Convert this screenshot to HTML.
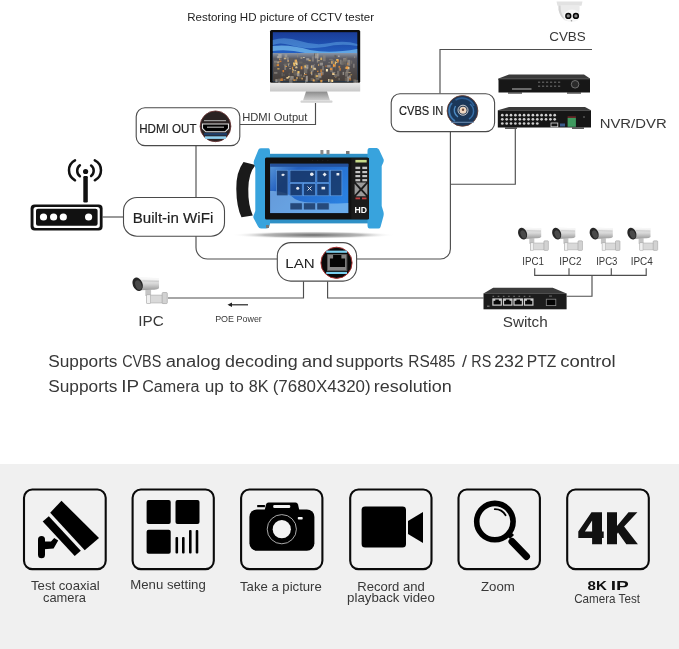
<!DOCTYPE html>
<html><head><meta charset="utf-8">
<style>
html,body{margin:0;padding:0;background:#fff;}
body{width:679px;height:649px;overflow:hidden;position:relative;font-family:"Liberation Sans",sans-serif;}
svg{position:absolute;left:0;top:0;will-change:transform;}
text{font-family:"Liberation Sans",sans-serif;}
</style></head><body>
<svg width="679" height="649" viewBox="0 0 679 649">
<defs>
  <linearGradient id="sky" x1="0" y1="0" x2="0" y2="1">
    <stop offset="0" stop-color="#1a3c98"/>
    <stop offset="0.45" stop-color="#2462c4"/>
    <stop offset="1" stop-color="#3a8ad8"/>
  </linearGradient>
  <linearGradient id="chin" x1="0" y1="0" x2="0" y2="1">
    <stop offset="0" stop-color="#e8e8e8"/>
    <stop offset="1" stop-color="#c8c8c8"/>
  </linearGradient>
  <linearGradient id="stand" x1="0" y1="0" x2="0" y2="1">
    <stop offset="0" stop-color="#8a8a8a"/>
    <stop offset="1" stop-color="#d0d0d0"/>
  </linearGradient>
  <radialGradient id="shadow" cx="0.5" cy="0.5" r="0.5">
    <stop offset="0" stop-color="#6a6a6a"/>
    <stop offset="0.6" stop-color="#9a9a9a" stop-opacity="0.7"/>
    <stop offset="1" stop-color="#fff" stop-opacity="0"/>
  </radialGradient>
  <linearGradient id="scr" x1="0" y1="0" x2="1" y2="0.6">
    <stop offset="0" stop-color="#5a98d8"/>
    <stop offset="0.3" stop-color="#2460c0"/>
    <stop offset="1" stop-color="#2a80e0"/>
  </linearGradient>
  <linearGradient id="cam" x1="0" y1="0" x2="0" y2="1">
    <stop offset="0" stop-color="#f4f4f4"/>
    <stop offset="0.5" stop-color="#d6d6d6"/>
    <stop offset="1" stop-color="#9a9a9a"/>
  </linearGradient>
  <linearGradient id="city" x1="0" y1="0" x2="0" y2="1">
    <stop offset="0" stop-color="#8a96a8"/>
    <stop offset="0.2" stop-color="#5a5a62"/>
    <stop offset="1" stop-color="#463e38"/>
  </linearGradient>
</defs>

<!-- backgrounds -->
<rect x="0" y="0" width="679" height="464" fill="#ffffff"/>
<rect x="0" y="464" width="679" height="185" fill="#f0f0f0"/>

<!-- connecting lines -->
<g stroke="#4e4e4e" stroke-width="1.15" fill="none">
  <polyline points="240,124.5 315.5,124.5 315.5,103"/>
  <line x1="196" y1="146" x2="196" y2="197.5"/>
  <path d="M196,236 V247.5 A11.5,11.5 0 0 0 207.5,259 H277.5"/>
  <polyline points="440,93.5 440,49.5 592,49.5"/>
  <path d="M450.4,131.5 V249 A10,10 0 0 1 440.4,259 H356.5"/>
  <polyline points="515.3,129 515.3,184.2 450.5,184.2"/>
  <line x1="102.7" y1="217" x2="123" y2="217"/>
  <polyline points="168,298 303.5,298 303.5,281.4"/>
  <polyline points="327.6,281.4 327.6,298 483.5,298"/>
  <polyline points="566.7,296.2 592,296.2 592,275.4"/>
  <polyline points="534.7,268.3 534.7,275.4 646.2,275.4 646.2,268.3"/>
  <line x1="569" y1="268.3" x2="569" y2="275.4"/>
  <line x1="611.3" y1="268.3" x2="611.3" y2="275.4"/>
</g>

<!-- label boxes -->
<g stroke="#4a4a4a" stroke-width="1.1" fill="#fff">
  <rect x="136.2" y="107.8" width="103.6" height="37.8" rx="8.8"/>
  <rect x="391.2" y="93.8" width="103.4" height="37.8" rx="8.8"/>
  <rect x="123.5" y="197.5" width="101" height="38.7" rx="13.5"/>
  <rect x="277.3" y="242.6" width="79.3" height="38.5" rx="13.5"/>
</g>

<!-- texts -->
<g id="texts">
  <text x="187.20" y="21.4" font-size="11.6" textLength="186.80" lengthAdjust="spacingAndGlyphs" fill="#222">Restoring HD picture of CCTV tester</text>
  <text x="242.20" y="121.2" font-size="10.5" textLength="65.26" lengthAdjust="spacingAndGlyphs" fill="#383838">HDMI Output</text>
  <text x="139.20" y="132.6" font-size="12.5" textLength="57.30" lengthAdjust="spacingAndGlyphs" fill="#222" stroke="#222" stroke-width="0.18">HDMI OUT</text>
  <text x="549.20" y="40.5" font-size="12.4" textLength="36.60" lengthAdjust="spacingAndGlyphs" fill="#383838">CVBS</text>
  <text x="399.00" y="114.6" font-size="12" textLength="44.34" lengthAdjust="spacingAndGlyphs" fill="#222" stroke="#222" stroke-width="0.18">CVBS IN</text>
  <text x="599.70" y="128.2" font-size="13.4" textLength="66.98" lengthAdjust="spacingAndGlyphs" fill="#383838">NVR/DVR</text>
  <text x="132.70" y="222.8" font-size="14.7" textLength="80.60" lengthAdjust="spacingAndGlyphs" fill="#222" stroke="#222" stroke-width="0.18">Built-in WiFi</text>
  <text x="285.28" y="268" font-size="13.7" textLength="29.44" lengthAdjust="spacingAndGlyphs" fill="#222">LAN</text>
  <text x="138.36" y="326" font-size="13.8" textLength="25.44" lengthAdjust="spacingAndGlyphs" fill="#383838">IPC</text>
  <text x="215.16" y="322.2" font-size="9.7" textLength="46.68" lengthAdjust="spacingAndGlyphs" fill="#383838">POE Power</text>
  <text x="502.70" y="327" font-size="14.5" textLength="45.02" lengthAdjust="spacingAndGlyphs" fill="#383838">Switch</text>
  <text x="522.20" y="265.2" font-size="10.9" textLength="21.72" lengthAdjust="spacingAndGlyphs" fill="#383838">IPC1</text>
  <text x="559.32" y="265.2" font-size="10.9" textLength="22.14" lengthAdjust="spacingAndGlyphs" fill="#383838">IPC2</text>
  <text x="596.20" y="265.2" font-size="10.9" textLength="21.22" lengthAdjust="spacingAndGlyphs" fill="#383838">IPC3</text>
  <text x="630.74" y="265.2" font-size="10.9" textLength="22.10" lengthAdjust="spacingAndGlyphs" fill="#383838">IPC4</text>
  <text x="48.24" y="366.6" font-size="16" textLength="69.14" lengthAdjust="spacingAndGlyphs" fill="#383838">Supports</text>
  <text x="122.16" y="366.6" font-size="16" textLength="39.14" lengthAdjust="spacingAndGlyphs" fill="#383838">CVBS</text>
  <text x="165.66" y="366.6" font-size="16" textLength="55.14" lengthAdjust="spacingAndGlyphs" fill="#383838">analog</text>
  <text x="225.08" y="366.6" font-size="16" textLength="72.64" lengthAdjust="spacingAndGlyphs" fill="#383838">decoding</text>
  <text x="301.70" y="366.6" font-size="16" textLength="31.10" lengthAdjust="spacingAndGlyphs" fill="#383838">and</text>
  <text x="335.74" y="366.6" font-size="16" textLength="67.72" lengthAdjust="spacingAndGlyphs" fill="#383838">supports</text>
  <text x="408.24" y="366.6" font-size="16" textLength="47.18" lengthAdjust="spacingAndGlyphs" fill="#383838">RS485</text>
  <text x="462.04" y="366.6" font-size="16" textLength="4.96" lengthAdjust="spacingAndGlyphs" fill="#383838">/</text>
  <text x="471.36" y="366.6" font-size="16" textLength="19.94" lengthAdjust="spacingAndGlyphs" fill="#383838">RS</text>
  <text x="494.24" y="366.6" font-size="16" textLength="29.56" lengthAdjust="spacingAndGlyphs" fill="#383838">232</text>
  <text x="526.86" y="366.6" font-size="16" textLength="29.48" lengthAdjust="spacingAndGlyphs" fill="#383838">PTZ</text>
  <text x="560.20" y="366.6" font-size="16" textLength="55.56" lengthAdjust="spacingAndGlyphs" fill="#383838">control</text>
  <text x="48.24" y="392.3" font-size="16" textLength="69.14" lengthAdjust="spacingAndGlyphs" fill="#383838">Supports</text>
  <text x="121.36" y="392.3" font-size="16" textLength="17.86" lengthAdjust="spacingAndGlyphs" fill="#383838">IP</text>
  <text x="142.16" y="392.3" font-size="16" textLength="57.30" lengthAdjust="spacingAndGlyphs" fill="#383838">Camera</text>
  <text x="204.78" y="392.3" font-size="16" textLength="19.14" lengthAdjust="spacingAndGlyphs" fill="#383838">up</text>
  <text x="229.50" y="392.3" font-size="16" textLength="14.42" lengthAdjust="spacingAndGlyphs" fill="#383838">to</text>
  <text x="248.70" y="392.3" font-size="16" textLength="19.76" lengthAdjust="spacingAndGlyphs" fill="#383838">8K</text>
  <text x="272.70" y="392.3" font-size="16" textLength="97.94" lengthAdjust="spacingAndGlyphs" fill="#383838">(7680X4320)</text>
  <text x="373.70" y="392.3" font-size="16" textLength="77.98" lengthAdjust="spacingAndGlyphs" fill="#383838">resolution</text>
  <text x="31.00" y="589.8" font-size="13" textLength="68.76" lengthAdjust="spacingAndGlyphs" fill="#383838">Test coaxial</text>
  <text x="43.00" y="601.8" font-size="13" textLength="43.00" lengthAdjust="spacingAndGlyphs" fill="#383838">camera</text>
  <text x="130.28" y="589.2" font-size="13" textLength="75.52" lengthAdjust="spacingAndGlyphs" fill="#383838">Menu setting</text>
  <text x="240.00" y="590.8" font-size="13" textLength="81.80" lengthAdjust="spacingAndGlyphs" fill="#383838">Take a picture</text>
  <text x="357.28" y="591" font-size="13" textLength="67.56" lengthAdjust="spacingAndGlyphs" fill="#383838">Record and</text>
  <text x="347.12" y="602" font-size="13" textLength="87.72" lengthAdjust="spacingAndGlyphs" fill="#383838">playback video</text>
  <text x="481.00" y="591.2" font-size="13" textLength="33.80" lengthAdjust="spacingAndGlyphs" fill="#383838">Zoom</text>
  <text x="587.54" y="590.2" font-size="13.7" textLength="19.26" lengthAdjust="spacingAndGlyphs" fill="#111" font-weight="bold">8K</text>
  <text x="610.74" y="590.2" font-size="13.7" textLength="18.06" lengthAdjust="spacingAndGlyphs" fill="#111" font-weight="bold">IP</text>
  <text x="574.20" y="602.6" font-size="12.2" textLength="65.80" lengthAdjust="spacingAndGlyphs" fill="#383838">Camera Test</text>
</g>

<!-- arrow -->
<g stroke="#222" stroke-width="1.2" fill="none"><line x1="229" y1="304.8" x2="248" y2="304.8"/></g>
<path d="M227.5,304.8 L232,302.6 L232,307 Z" fill="#222"/>

<!-- circle icons -->
<g id="hdmi-icon">
  <circle cx="215.5" cy="126.3" r="15.4" fill="#2a2222" stroke="#6a3030" stroke-width="0.8"/>
  <rect x="204" y="120" width="22" height="1.2" fill="#9a9a9a"/>
  <path d="M202.5,124 L228.5,124 L228.5,128.5 L225,131.8 L206,131.8 L202.5,128.5 Z" fill="#000" stroke="#e0e0e0" stroke-width="1.1"/>
  <rect x="207" y="126.5" width="17" height="1.5" fill="#888"/>
  <rect x="204" y="132.8" width="23" height="2.6" fill="#1f3d66"/>
  <rect x="205" y="136.3" width="21" height="2.6" fill="#8fd0f0"/>
</g>
<g id="bnc-icon">
  <circle cx="462.5" cy="110.9" r="15.4" fill="#1b3759" stroke="#6a3a2a" stroke-width="0.8"/>
  <path d="M452,103 A12,12 0 0 0 455,121" fill="none" stroke="#3f78b0" stroke-width="1.8"/>
  <path d="M455.5,100 A13,13 0 0 1 474,106" fill="none" stroke="#2d5e94" stroke-width="1.6"/>
  <path d="M455.5,106 A8,8 0 0 0 458,117" fill="none" stroke="#4f8cc4" stroke-width="1.4"/>
  <path d="M470,104 A9,9 0 0 1 469,119" fill="none" stroke="#3a70a8" stroke-width="1.5"/>
  <circle cx="463" cy="110.2" r="6" fill="#2a3d55"/>
  <circle cx="463" cy="110.2" r="5" fill="none" stroke="#c4c8d0" stroke-width="1"/>
  <circle cx="463" cy="110.2" r="3.5" fill="#eed6c0"/>
  <circle cx="463" cy="109.8" r="1.2" fill="#6b4a3a"/>
  <rect x="451" y="121.8" width="23" height="0.9" fill="#7a9ac0"/>
</g>
<g id="rj45-icon">
  <circle cx="336.5" cy="262.8" r="15.6" fill="#0a0a0a" stroke="#a83030" stroke-width="1"/>
  <rect x="326.2" y="250.6" width="20.8" height="2.2" fill="#7ad0f0"/>
  <rect x="326.2" y="271.9" width="20.8" height="2.1" fill="#7ad0f0"/>
  <rect x="327.1" y="254" width="20.1" height="17.1" fill="#858585"/>
  <rect x="327.6" y="254.5" width="19.1" height="16.1" fill="none" stroke="#444" stroke-width="0.6"/>
  <path d="M329.9,267 L329.9,258.6 L333.1,258.6 L333.1,255 L341.4,255 L341.4,258.6 L345.1,258.6 L345.1,267 Z" fill="#050505"/>
</g>

<!-- MONITOR -->
<g id="monitor">
  <rect x="270" y="30" width="90.2" height="53" rx="1.5" fill="#0d0d0d"/>
  <rect x="272.8" y="32.2" width="84.5" height="49.1" fill="url(#sky)"/>
  <path d="M272.8,40 Q285,36 300,41 Q315,46 330,43 Q345,40 357.3,44 L357.3,46 Q340,43 325,47 Q305,50 290,45 Q280,42 272.8,45 Z" fill="#6ab4ee" opacity="0.45"/>
  <path d="M272.8,46 Q290,44 310,50 Q330,54 357.3,49 L357.3,53 Q330,57 305,53 Q288,49 272.8,51 Z" fill="#7cc4f2" opacity="0.7"/>
  <rect x="272.8" y="53" width="84.5" height="28.3" fill="url(#city)"/>
  <rect x="310.1" y="68.1" width="3.6" height="3.3" fill="rgb(155,149,141)" opacity="0.65"/>
  <rect x="343.1" y="58.1" width="3.2" height="3.4" fill="rgb(168,162,154)" opacity="0.65"/>
  <rect x="338.0" y="55.5" width="1.7" height="1.5" fill="rgb(193,187,179)" opacity="0.65"/>
  <rect x="346.0" y="70.1" width="2.6" height="3.0" fill="rgb(147,141,133)" opacity="0.65"/>
  <rect x="326.6" y="69.6" width="1.3" height="1.1" fill="rgb(157,151,143)" opacity="0.65"/>
  <rect x="278.2" y="54.0" width="3.4" height="4.0" fill="rgb(189,183,175)" opacity="0.65"/>
  <rect x="311.0" y="64.9" width="3.3" height="3.6" fill="rgb(171,165,157)" opacity="0.65"/>
  <rect x="297.1" y="53.1" width="1.1" height="4.3" fill="rgb(142,136,128)" opacity="0.65"/>
  <rect x="354.8" y="79.9" width="3.3" height="4.5" fill="rgb(130,124,116)" opacity="0.65"/>
  <rect x="335.2" y="66.8" width="0.9" height="3.8" fill="rgb(103,97,89)" opacity="0.65"/>
  <rect x="305.8" y="75.9" width="2.0" height="5.8" fill="rgb(198,192,184)" opacity="0.65"/>
  <rect x="329.2" y="58.8" width="3.6" height="1.3" fill="rgb(138,132,124)" opacity="0.65"/>
  <rect x="353.4" y="63.7" width="1.0" height="4.1" fill="rgb(189,183,175)" opacity="0.65"/>
  <rect x="328.3" y="62.1" width="1.7" height="1.1" fill="rgb(142,136,128)" opacity="0.65"/>
  <rect x="335.2" y="56.2" width="1.5" height="1.5" fill="rgb(97,91,83)" opacity="0.65"/>
  <rect x="311.1" y="66.1" width="2.8" height="1.9" fill="rgb(155,149,141)" opacity="0.65"/>
  <rect x="288.6" y="72.8" width="1.2" height="4.2" fill="rgb(104,98,90)" opacity="0.65"/>
  <rect x="305.4" y="79.7" width="0.8" height="5.3" fill="rgb(192,186,178)" opacity="0.65"/>
  <rect x="321.6" y="79.9" width="0.9" height="1.9" fill="rgb(199,193,185)" opacity="0.65"/>
  <rect x="322.4" y="68.6" width="0.9" height="1.7" fill="rgb(146,140,132)" opacity="0.65"/>
  <rect x="294.2" y="73.9" width="1.8" height="2.5" fill="rgb(99,93,85)" opacity="0.65"/>
  <rect x="279.1" y="58.6" width="2.7" height="1.1" fill="rgb(137,131,123)" opacity="0.65"/>
  <rect x="303.5" y="65.2" width="3.7" height="3.4" fill="rgb(163,157,149)" opacity="0.65"/>
  <rect x="284.1" y="63.4" width="2.7" height="2.6" fill="rgb(119,113,105)" opacity="0.65"/>
  <rect x="340.1" y="59.7" width="1.4" height="4.7" fill="rgb(160,154,146)" opacity="0.65"/>
  <rect x="289.1" y="78.7" width="3.4" height="4.0" fill="rgb(143,137,129)" opacity="0.65"/>
  <rect x="276.9" y="55.9" width="2.3" height="2.3" fill="rgb(184,178,170)" opacity="0.65"/>
  <rect x="330.8" y="59.9" width="3.3" height="4.0" fill="rgb(127,121,113)" opacity="0.65"/>
  <rect x="315.6" y="78.1" width="3.7" height="1.6" fill="rgb(151,145,137)" opacity="0.65"/>
  <rect x="318.9" y="76.0" width="2.6" height="2.4" fill="rgb(116,110,102)" opacity="0.65"/>
  <rect x="334.4" y="54.9" width="2.0" height="2.2" fill="rgb(95,89,81)" opacity="0.65"/>
  <rect x="287.5" y="63.0" width="2.5" height="1.7" fill="rgb(136,130,122)" opacity="0.65"/>
  <rect x="284.3" y="65.2" width="1.8" height="4.7" fill="rgb(156,150,142)" opacity="0.65"/>
  <rect x="320.9" y="56.8" width="0.9" height="1.1" fill="rgb(135,129,121)" opacity="0.65"/>
  <rect x="330.5" y="79.0" width="0.9" height="4.2" fill="rgb(151,145,137)" opacity="0.65"/>
  <rect x="278.5" y="61.4" width="1.2" height="1.4" fill="rgb(147,141,133)" opacity="0.65"/>
  <rect x="317.8" y="72.9" width="3.5" height="4.7" fill="rgb(180,174,166)" opacity="0.65"/>
  <rect x="283.6" y="79.0" width="1.8" height="1.4" fill="rgb(150,144,136)" opacity="0.65"/>
  <rect x="346.9" y="76.5" width="2.1" height="5.0" fill="rgb(200,194,186)" opacity="0.65"/>
  <rect x="314.0" y="53.4" width="2.8" height="2.9" fill="rgb(91,85,77)" opacity="0.65"/>
  <rect x="322.9" y="55.2" width="2.7" height="6.0" fill="rgb(143,137,129)" opacity="0.65"/>
  <rect x="332.7" y="63.5" width="3.0" height="3.9" fill="rgb(146,140,132)" opacity="0.65"/>
  <rect x="310.9" y="67.6" width="2.4" height="3.6" fill="rgb(129,123,115)" opacity="0.65"/>
  <rect x="322.3" y="66.0" width="1.5" height="4.5" fill="rgb(153,147,139)" opacity="0.65"/>
  <rect x="337.0" y="70.8" width="2.3" height="5.5" fill="rgb(137,131,123)" opacity="0.65"/>
  <rect x="297.7" y="71.3" width="1.4" height="1.8" fill="rgb(133,127,119)" opacity="0.65"/>
  <rect x="327.1" y="64.9" width="3.5" height="2.6" fill="rgb(175,169,161)" opacity="0.65"/>
  <rect x="293.5" y="70.1" width="3.2" height="4.8" fill="rgb(115,109,101)" opacity="0.65"/>
  <rect x="345.2" y="63.4" width="2.5" height="2.6" fill="rgb(107,101,93)" opacity="0.65"/>
  <rect x="284.0" y="62.5" width="3.5" height="1.2" fill="rgb(98,92,84)" opacity="0.65"/>
  <rect x="350.9" y="60.5" width="1.3" height="3.3" fill="rgb(125,119,111)" opacity="0.65"/>
  <rect x="348.9" y="75.4" width="1.9" height="3.6" fill="rgb(176,170,162)" opacity="0.65"/>
  <rect x="298.9" y="75.7" width="3.7" height="3.3" fill="rgb(99,93,85)" opacity="0.65"/>
  <rect x="341.0" y="60.5" width="2.6" height="4.4" fill="rgb(125,119,111)" opacity="0.65"/>
  <rect x="319.8" y="61.3" width="3.2" height="1.1" fill="rgb(107,101,93)" opacity="0.65"/>
  <rect x="306.2" y="58.1" width="3.1" height="2.3" fill="rgb(189,183,175)" opacity="0.65"/>
  <rect x="284.6" y="54.3" width="2.7" height="3.2" fill="rgb(170,164,156)" opacity="0.65"/>
  <rect x="316.9" y="70.3" width="1.9" height="1.4" fill="rgb(115,109,101)" opacity="0.65"/>
  <rect x="289.3" y="65.8" width="1.3" height="1.1" fill="rgb(150,144,136)" opacity="0.65"/>
  <rect x="316.9" y="54.0" width="1.5" height="4.9" fill="rgb(159,153,145)" opacity="0.65"/>
  <rect x="330.2" y="67.1" width="2.6" height="4.8" fill="rgb(140,134,126)" opacity="0.65"/>
  <rect x="342.6" y="71.9" width="1.5" height="3.1" fill="rgb(182,176,168)" opacity="0.65"/>
  <rect x="304.8" y="65.2" width="1.4" height="5.4" fill="rgb(90,84,76)" opacity="0.65"/>
  <rect x="303.9" y="68.4" width="3.4" height="5.0" fill="rgb(133,127,119)" opacity="0.65"/>
  <rect x="311.0" y="70.6" width="1.4" height="4.6" fill="rgb(194,188,180)" opacity="0.65"/>
  <rect x="338.5" y="78.0" width="1.2" height="2.2" fill="rgb(139,133,125)" opacity="0.65"/>
  <rect x="353.4" y="79.4" width="2.4" height="5.0" fill="rgb(131,125,117)" opacity="0.65"/>
  <rect x="294.5" y="72.4" width="0.8" height="3.5" fill="rgb(94,88,80)" opacity="0.65"/>
  <rect x="309.2" y="67.9" width="3.1" height="3.4" fill="rgb(93,87,79)" opacity="0.65"/>
  <rect x="290.9" y="76.4" width="2.1" height="1.2" fill="rgb(158,152,144)" opacity="0.65"/>
  <rect x="300.5" y="74.3" width="1.2" height="1.7" fill="rgb(156,150,142)" opacity="0.65"/>
  <rect x="346.8" y="67.0" width="2.8" height="3.2" fill="rgb(153,147,139)" opacity="0.65"/>
  <rect x="320.5" y="71.6" width="3.1" height="3.2" fill="rgb(161,155,147)" opacity="0.65"/>
  <rect x="296.8" y="72.7" width="2.7" height="3.6" fill="rgb(197,191,183)" opacity="0.65"/>
  <rect x="347.4" y="59.9" width="2.8" height="5.8" fill="rgb(168,162,154)" opacity="0.65"/>
  <rect x="290.1" y="76.0" width="3.7" height="3.6" fill="rgb(163,157,149)" opacity="0.65"/>
  <rect x="313.8" y="64.1" width="1.1" height="1.0" fill="rgb(138,132,124)" opacity="0.65"/>
  <rect x="275.3" y="79.2" width="2.3" height="3.0" fill="rgb(192,186,178)" opacity="0.65"/>
  <rect x="354.1" y="56.3" width="1.1" height="1.8" fill="rgb(158,152,144)" opacity="0.65"/>
  <rect x="310.6" y="77.9" width="3.2" height="3.0" fill="rgb(121,115,107)" opacity="0.65"/>
  <rect x="311.8" y="56.4" width="2.1" height="5.1" fill="rgb(150,144,136)" opacity="0.65"/>
  <rect x="316.0" y="55.9" width="2.1" height="1.1" fill="rgb(123,117,109)" opacity="0.65"/>
  <rect x="283.6" y="74.0" width="0.9" height="2.0" fill="rgb(119,113,105)" opacity="0.65"/>
  <rect x="274.0" y="60.7" width="3.0" height="2.2" fill="rgb(153,147,139)" opacity="0.65"/>
  <rect x="281.6" y="72.7" width="1.2" height="3.6" fill="rgb(122,116,108)" opacity="0.65"/>
  <rect x="331.9" y="71.9" width="3.4" height="1.1" fill="rgb(171,165,157)" opacity="0.65"/>
  <rect x="306.9" y="67.3" width="1.3" height="2.0" fill="rgb(170,164,156)" opacity="0.65"/>
  <rect x="316.8" y="58.9" width="1.4" height="3.7" fill="rgb(165,159,151)" opacity="0.65"/>
  <rect x="343.3" y="59.3" width="3.0" height="5.1" fill="rgb(113,107,99)" opacity="0.65"/>
  <rect x="298.9" y="61.5" width="3.6" height="2.1" fill="rgb(114,108,100)" opacity="0.65"/>
  <rect x="345.8" y="56.6" width="1.5" height="4.6" fill="rgb(123,117,109)" opacity="0.65"/>
  <rect x="304.8" y="64.7" width="3.6" height="3.7" fill="rgb(180,174,166)" opacity="0.65"/>
  <rect x="283.3" y="63.9" width="2.9" height="1.1" fill="rgb(115,109,101)" opacity="0.65"/>
  <rect x="319.7" y="62.7" width="3.3" height="2.8" fill="rgb(180,174,166)" opacity="0.65"/>
  <rect x="314.5" y="73.5" width="2.3" height="4.4" fill="rgb(114,108,100)" opacity="0.65"/>
  <rect x="338.8" y="66.0" width="0.9" height="4.8" fill="rgb(168,162,154)" opacity="0.65"/>
  <rect x="315.2" y="68.4" width="1.2" height="1.9" fill="rgb(116,110,102)" opacity="0.65"/>
  <rect x="287.1" y="57.3" width="1.6" height="4.4" fill="rgb(164,158,150)" opacity="0.65"/>
  <rect x="278.1" y="78.7" width="2.2" height="4.8" fill="rgb(131,125,117)" opacity="0.65"/>
  <rect x="305.1" y="64.5" width="1.9" height="2.1" fill="rgb(137,131,123)" opacity="0.65"/>
  <rect x="274.1" y="71.9" width="3.3" height="1.9" fill="rgb(148,142,134)" opacity="0.65"/>
  <rect x="302.5" y="63.0" width="3.6" height="4.0" fill="rgb(102,96,88)" opacity="0.65"/>
  <rect x="315.0" y="53.4" width="3.5" height="5.0" fill="rgb(180,174,166)" opacity="0.65"/>
  <rect x="344.8" y="77.5" width="3.6" height="3.8" fill="rgb(114,108,100)" opacity="0.65"/>
  <rect x="314.4" y="79.5" width="3.2" height="2.3" fill="rgb(104,98,90)" opacity="0.65"/>
  <rect x="334.0" y="74.0" width="3.2" height="3.0" fill="rgb(132,126,118)" opacity="0.65"/>
  <rect x="345.1" y="71.8" width="3.1" height="4.8" fill="rgb(141,135,127)" opacity="0.65"/>
  <rect x="290.0" y="58.0" width="3.2" height="2.5" fill="rgb(102,96,88)" opacity="0.65"/>
  <rect x="273.9" y="62.6" width="2.7" height="4.1" fill="rgb(119,113,105)" opacity="0.65"/>
  <rect x="295.4" y="79.0" width="1.7" height="2.1" fill="rgb(141,135,127)" opacity="0.65"/>
  <rect x="320.4" y="69.3" width="1.4" height="3.0" fill="#ff9a30" opacity="0.69"/>
  <rect x="285.3" y="66.1" width="1.7" height="0.9" fill="#f0a040" opacity="0.90"/>
  <rect x="296.0" y="66.2" width="0.7" height="1.1" fill="#fff0c0" opacity="0.60"/>
  <rect x="296.2" y="63.3" width="1.3" height="1.9" fill="#fff0c0" opacity="0.99"/>
  <rect x="320.3" y="79.9" width="1.9" height="2.5" fill="#f0a040" opacity="0.82"/>
  <rect x="328.1" y="79.0" width="1.4" height="2.9" fill="#fff0c0" opacity="0.79"/>
  <rect x="289.2" y="68.4" width="1.8" height="0.7" fill="#fff0c0" opacity="0.77"/>
  <rect x="317.1" y="70.8" width="1.3" height="1.3" fill="#ff9a30" opacity="0.71"/>
  <rect x="348.5" y="72.3" width="2.1" height="0.7" fill="#ffe0a0" opacity="0.70"/>
  <rect x="279.3" y="60.6" width="2.1" height="1.5" fill="#d88030" opacity="0.90"/>
  <rect x="279.9" y="79.7" width="2.5" height="0.8" fill="#ffcc66" opacity="0.77"/>
  <rect x="313.3" y="79.4" width="1.1" height="1.9" fill="#ffe0a0" opacity="0.89"/>
  <rect x="312.5" y="79.5" width="2.2" height="2.0" fill="#f0a040" opacity="0.62"/>
  <rect x="308.5" y="59.7" width="2.3" height="1.5" fill="#ffcc66" opacity="0.65"/>
  <rect x="310.5" y="72.4" width="1.5" height="1.2" fill="#e8b060" opacity="0.87"/>
  <rect x="304.4" y="74.1" width="2.2" height="0.9" fill="#d88030" opacity="0.89"/>
  <rect x="294.6" y="59.6" width="2.4" height="2.5" fill="#e8b060" opacity="0.94"/>
  <rect x="297.4" y="71.0" width="2.1" height="2.3" fill="#ffcc66" opacity="0.85"/>
  <rect x="334.8" y="61.4" width="1.1" height="3.0" fill="#ffcc66" opacity="0.95"/>
  <rect x="279.1" y="58.4" width="1.1" height="1.6" fill="#e8b060" opacity="0.62"/>
  <rect x="293.4" y="63.4" width="2.1" height="2.8" fill="#ffcc66" opacity="0.82"/>
  <rect x="325.2" y="65.6" width="1.6" height="1.1" fill="#d88030" opacity="0.80"/>
  <rect x="286.4" y="77.0" width="2.2" height="1.7" fill="#ffe0a0" opacity="0.85"/>
  <rect x="336.0" y="61.9" width="1.4" height="1.2" fill="#ffe0a0" opacity="0.66"/>
  <rect x="288.0" y="76.2" width="1.8" height="1.3" fill="#ffe0a0" opacity="0.90"/>
  <rect x="347.8" y="66.8" width="1.3" height="0.8" fill="#d88030" opacity="0.63"/>
  <rect x="282.5" y="70.0" width="1.6" height="2.2" fill="#d88030" opacity="0.93"/>
  <rect x="276.7" y="64.1" width="2.4" height="2.0" fill="#ff9a30" opacity="0.72"/>
  <rect x="332.5" y="73.0" width="1.2" height="0.9" fill="#d88030" opacity="0.86"/>
  <rect x="301.5" y="77.8" width="1.2" height="1.7" fill="#e8b060" opacity="0.97"/>
  <rect x="349.3" y="78.0" width="1.5" height="2.5" fill="#d88030" opacity="0.78"/>
  <rect x="293.3" y="79.3" width="2.1" height="1.8" fill="#f0a040" opacity="0.74"/>
  <rect x="304.5" y="65.4" width="1.4" height="1.5" fill="#ffcc66" opacity="0.90"/>
  <rect x="304.7" y="66.0" width="0.9" height="2.0" fill="#ffcc66" opacity="0.67"/>
  <rect x="335.2" y="77.3" width="1.2" height="0.7" fill="#e8b060" opacity="0.62"/>
  <rect x="288.4" y="63.8" width="0.6" height="2.6" fill="#fff0c0" opacity="0.63"/>
  <rect x="318.7" y="75.1" width="0.8" height="0.8" fill="#ff9a30" opacity="0.64"/>
  <rect x="300.5" y="57.6" width="1.9" height="0.8" fill="#ffe0a0" opacity="0.86"/>
  <rect x="295.1" y="62.1" width="2.1" height="1.9" fill="#ffe0a0" opacity="0.78"/>
  <rect x="303.3" y="75.6" width="1.3" height="0.9" fill="#fff0c0" opacity="0.81"/>
  <rect x="332.2" y="73.3" width="2.4" height="1.6" fill="#ffe0a0" opacity="0.99"/>
  <rect x="303.2" y="57.1" width="1.4" height="0.8" fill="#fff0c0" opacity="0.98"/>
  <rect x="325.9" y="69.0" width="2.0" height="2.5" fill="#fff0c0" opacity="0.97"/>
  <rect x="347.4" y="62.7" width="0.9" height="2.1" fill="#ff9a30" opacity="0.67"/>
  <rect x="291.9" y="66.8" width="1.2" height="2.9" fill="#f0a040" opacity="0.79"/>
  <rect x="333.0" y="64.0" width="0.9" height="2.8" fill="#f0a040" opacity="0.90"/>
  <rect x="277.3" y="68.1" width="2.2" height="1.4" fill="#ffcc66" opacity="0.67"/>
  <rect x="293.0" y="62.4" width="2.0" height="2.0" fill="#ffcc66" opacity="0.78"/>
  <rect x="345.8" y="66.3" width="2.4" height="2.8" fill="#ff9a30" opacity="0.82"/>
  <rect x="339.7" y="68.0" width="1.1" height="2.7" fill="#d88030" opacity="0.86"/>
  <rect x="336.2" y="59.1" width="2.3" height="1.6" fill="#ffcc66" opacity="0.98"/>
  <rect x="338.5" y="65.9" width="1.7" height="1.8" fill="#d88030" opacity="0.92"/>
  <rect x="280.5" y="78.3" width="2.4" height="2.7" fill="#d88030" opacity="0.78"/>
  <rect x="295.2" y="66.7" width="2.3" height="1.6" fill="#ffe0a0" opacity="0.73"/>
  <rect x="296.2" y="77.0" width="1.6" height="2.1" fill="#e8b060" opacity="0.71"/>
  <rect x="317.7" y="60.5" width="2.1" height="0.6" fill="#ffe0a0" opacity="0.97"/>
  <rect x="287.6" y="60.0" width="1.3" height="2.1" fill="#e8b060" opacity="0.64"/>
  <rect x="313.4" y="67.8" width="2.5" height="2.0" fill="#ffe0a0" opacity="0.80"/>
  <rect x="277.5" y="61.3" width="1.0" height="2.2" fill="#ffe0a0" opacity="0.93"/>
  <rect x="292.3" y="69.5" width="1.7" height="1.0" fill="#ffe0a0" opacity="0.99"/>
  <rect x="300.7" y="66.3" width="1.7" height="3.0" fill="#ff9a30" opacity="0.89"/>
  <rect x="304.1" y="72.8" width="0.8" height="1.5" fill="#fff0c0" opacity="0.90"/>
  <rect x="337.2" y="59.8" width="1.5" height="2.7" fill="#ff9a30" opacity="0.88"/>
  <rect x="294.5" y="70.0" width="1.5" height="0.6" fill="#ffe0a0" opacity="0.92"/>
  <rect x="292.1" y="71.2" width="1.2" height="1.5" fill="#e8b060" opacity="0.90"/>
  <rect x="350.4" y="74.4" width="1.7" height="0.8" fill="#ffcc66" opacity="0.68"/>
  <rect x="333.1" y="64.6" width="2.5" height="2.0" fill="#ff9a30" opacity="0.86"/>
  <rect x="310.9" y="65.8" width="0.8" height="2.1" fill="#ffcc66" opacity="0.87"/>
  <rect x="331.2" y="61.1" width="1.4" height="2.6" fill="#e8b060" opacity="0.88"/>
  <rect x="283.8" y="57.7" width="2.6" height="1.6" fill="#ffe0a0" opacity="0.63"/>
  <rect x="347.8" y="66.8" width="1.6" height="2.2" fill="#ffe0a0" opacity="0.66"/>
  <rect x="329.9" y="68.1" width="2.4" height="2.1" fill="#ff9a30" opacity="0.76"/>
  <rect x="330.6" y="79.6" width="2.2" height="2.2" fill="#e8b060" opacity="0.81"/>
  <rect x="296.3" y="61.3" width="1.2" height="1.7" fill="#e8b060" opacity="0.75"/>
  <rect x="315.7" y="75.1" width="2.3" height="2.1" fill="#ffcc66" opacity="0.70"/>
  <rect x="318.0" y="63.9" width="1.1" height="2.1" fill="#e8b060" opacity="0.66"/>
  <rect x="331.6" y="79.7" width="1.6" height="2.3" fill="#ffe0a0" opacity="0.97"/>
  <rect x="320.3" y="57.6" width="1.9" height="2.5" fill="#ffcc66" opacity="0.70"/>
  <rect x="321.0" y="73.0" width="1.3" height="2.8" fill="#d88030" opacity="0.71"/>
  <rect x="344.9" y="67.4" width="2.1" height="1.2" fill="#e8b060" opacity="0.82"/>
  <rect x="270" y="82.7" width="90.2" height="8.8" fill="url(#chin)"/>
  <path d="M306,91.5 L327,91.5 L330,100.5 L303,100.5 Z" fill="url(#stand)"/>
  <rect x="300.5" y="100.5" width="32" height="2.2" rx="0.8" fill="#d4d4d4"/>
</g>

<!-- DOME CAMERA -->
<g id="dome">
  <path d="M556.5,1.5 L582.5,1.5 L581.5,5.8 L557.5,5.8 Z" fill="#e2e2e2"/>
  <path d="M558.5,5.6 L579.5,5.6 Q580.5,13 576,18.5 Q570,23 564,20 Q558.5,15 558.5,5.6 Z" fill="#ebebeb"/>
  <path d="M558.5,5.6 L560.5,5.6 Q560.5,14 565,19.5 Q560,17 558.5,10 Z" fill="#d2d2d2"/>
  <ellipse cx="572" cy="15.8" rx="8.2" ry="6.2" fill="#f7f7f7"/>
  <circle cx="568.3" cy="15.9" r="2.4" fill="#8a8a8a" stroke="#050505" stroke-width="1.5"/>
  <circle cx="575.9" cy="15.9" r="2.4" fill="#8a8a8a" stroke="#050505" stroke-width="1.5"/>
  <circle cx="571.5" cy="20.8" r="0.8" fill="#999"/>
</g>

<!-- DVRs -->
<g id="dvr">
  <path d="M509,74.6 L584,74.6 L590,78.6 L498.5,78.6 Z" fill="#3a3a3a"/>
  <rect x="498.5" y="78.6" width="91.5" height="13.9" fill="#171717"/>
  <rect x="498.5" y="78.6" width="91.5" height="1.5" fill="#2a2a2a"/>
  <g fill="#555">
    <rect x="538" y="81.5" width="2.2" height="1.5"/><rect x="542" y="81.5" width="2.2" height="1.5"/><rect x="546" y="81.5" width="2.2" height="1.5"/><rect x="550" y="81.5" width="2.2" height="1.5"/><rect x="554" y="81.5" width="2.2" height="1.5"/><rect x="558" y="81.5" width="2.2" height="1.5"/>
    <rect x="538" y="85.5" width="2.2" height="1.5"/><rect x="542" y="85.5" width="2.2" height="1.5"/><rect x="546" y="85.5" width="2.2" height="1.5"/><rect x="550" y="85.5" width="2.2" height="1.5"/><rect x="554" y="85.5" width="2.2" height="1.5"/><rect x="558" y="85.5" width="2.2" height="1.5"/>
  </g>
  <rect x="512" y="88" width="19.5" height="2" fill="#6a6a6a"/>
  <circle cx="575.1" cy="84.3" r="3.8" fill="#2a2a2a" stroke="#777" stroke-width="0.9"/>
  <rect x="508" y="92.4" width="14" height="1.2" fill="#333"/>
  <rect x="567" y="92.4" width="14" height="1.2" fill="#333"/>

  <path d="M509,107 L585,107 L591,110.3 L497.8,110.3 Z" fill="#3a3a3a"/>
  <rect x="497.8" y="110.3" width="93.2" height="17.2" fill="#161616"/>
  <g fill="#d0d0d0"><circle cx="502.3" cy="115.2" r="1.35"/><circle cx="506.7" cy="115.2" r="1.35"/><circle cx="511.0" cy="115.2" r="1.35"/><circle cx="515.4" cy="115.2" r="1.35"/><circle cx="519.8" cy="115.2" r="1.35"/><circle cx="524.1" cy="115.2" r="1.35"/><circle cx="528.5" cy="115.2" r="1.35"/><circle cx="532.9" cy="115.2" r="1.35"/><circle cx="537.3" cy="115.2" r="1.35"/><circle cx="541.6" cy="115.2" r="1.35"/><circle cx="546.0" cy="115.2" r="1.35"/><circle cx="550.4" cy="115.2" r="1.35"/><circle cx="554.7" cy="115.2" r="1.35"/><circle cx="502.3" cy="119.3" r="1.35"/><circle cx="506.7" cy="119.3" r="1.35"/><circle cx="511.0" cy="119.3" r="1.35"/><circle cx="515.4" cy="119.3" r="1.35"/><circle cx="519.8" cy="119.3" r="1.35"/><circle cx="524.1" cy="119.3" r="1.35"/><circle cx="528.5" cy="119.3" r="1.35"/><circle cx="532.9" cy="119.3" r="1.35"/><circle cx="537.3" cy="119.3" r="1.35"/><circle cx="541.6" cy="119.3" r="1.35"/><circle cx="546.0" cy="119.3" r="1.35"/><circle cx="550.4" cy="119.3" r="1.35"/><circle cx="554.7" cy="119.3" r="1.35"/><circle cx="502.3" cy="123.5" r="1.35"/><circle cx="506.7" cy="123.5" r="1.35"/><circle cx="511.0" cy="123.5" r="1.35"/><circle cx="515.4" cy="123.5" r="1.35"/><circle cx="519.8" cy="123.5" r="1.35"/><circle cx="524.1" cy="123.5" r="1.35"/><circle cx="528.5" cy="123.5" r="1.35"/><circle cx="532.9" cy="123.5" r="1.35"/><circle cx="537.3" cy="123.5" r="1.35"/></g>
  <rect x="551" y="123" width="6.8" height="3.8" fill="none" stroke="#ddd" stroke-width="0.8"/>
  <rect x="560" y="123.5" width="5" height="3" fill="#3a5a8a"/>
  <rect x="567.6" y="116.5" width="8.3" height="1.2" fill="#8a3030"/>
  <rect x="567.6" y="118" width="8.3" height="8.8" fill="#3f9a5f"/>
  <circle cx="584" cy="117" r="1" fill="#555"/>
  <rect x="505" y="127.5" width="12" height="1.3" fill="#333"/>
  <rect x="572" y="127.5" width="12" height="1.3" fill="#333"/>
</g>

<!-- ROUTER -->
<g id="router">
  <rect x="30.6" y="204.4" width="72" height="26" rx="4" fill="#111"/>
  <rect x="33.5" y="207" width="66.3" height="21" rx="2.5" fill="#fff"/>
  <rect x="36" y="208.8" width="61.6" height="17" rx="2" fill="#111"/>
  <circle cx="43.5" cy="217" r="3.6" fill="#fff"/>
  <circle cx="53.6" cy="217" r="3.6" fill="#fff"/>
  <circle cx="63.3" cy="217" r="3.6" fill="#fff"/>
  <circle cx="88.6" cy="217" r="3.6" fill="#fff"/>
  <rect x="83.3" y="176" width="4.5" height="26.5" rx="1.2" fill="#111"/>
  <circle cx="85.6" cy="171.5" r="2.6" fill="#111"/>
  <g stroke="#111" stroke-width="2.5" fill="none" stroke-linecap="round">
    <path d="M75,160.4 A11.25,11.25 0 0 0 75,180.3"/>
    <path d="M94.8,160.4 A11.1,11.1 0 0 1 94.8,180.3"/>
    <path d="M79.9,165.3 A6.95,6.95 0 0 0 79.9,176.3"/>
    <path d="M91.1,165.6 A6.5,6.5 0 0 1 91.1,176"/>
  </g>
</g>

<!-- TESTER DEVICE -->
<g id="tester">
  <ellipse cx="313" cy="235" rx="82" ry="3.8" fill="url(#shadow)"/>
  <path d="M243.5,162 Q236,172 236.3,189 Q236.5,207 241.5,217.3 L252.8,215.5 Q248,205 248.3,189 Q248.6,173 255.5,165 Z" fill="#1a1a1a"/>
  <rect x="262" y="153.8" width="112" height="69.6" fill="#2f90c6"/>
  <path d="M261,148.2 L268.5,148.2 Q270,148.5 270,152 L270,223 Q270,228.6 266,228.6 L261,228.6 Q259,228.6 258,226.5 L253.5,218 Q253,216.5 253.8,215 L255.3,211 L255.3,168 L253.8,163.6 Q253.5,162 254,160.5 L258.5,149.6 Q259.3,148.2 261,148.2 Z" fill="#38a3dd"/>
  <path d="M369.5,148.1 L376.6,148.1 Q378,148.2 379,149.5 L383.7,159.5 Q384,161 383.3,162.5 L381.7,166 L381.7,206 L383.5,212 Q384,214 383.5,216 L380.5,227 Q380,228.6 378.5,228.6 L369.6,228.6 Q367.5,228.6 367.5,225 L367.5,151 Q367.5,148.1 369.5,148.1 Z" fill="#38a3dd"/>
  <rect x="265" y="157.6" width="104" height="62" rx="1.5" fill="#111"/>
  <rect x="270.1" y="163.8" width="78.2" height="49.3" fill="url(#scr)"/>
  <rect x="270.1" y="163.8" width="78.2" height="3" fill="#24509a"/>
  <path d="M270.1,191 Q285,190 295,199 Q305,205 348.3,203 L348.3,213.1 L270.1,213.1 Z" fill="#9ccdf2" opacity="0.55"/>
  <g fill="#173563" fill-opacity="0.82" stroke="#6aa6e8" stroke-width="0.6">
    <rect x="276.5" y="170.2" width="11.5" height="25.6"/>
    <rect x="290" y="170.2" width="25.6" height="12.2"/>
    <rect x="316.9" y="170.2" width="12.2" height="12.2"/>
    <rect x="330.4" y="170.2" width="11.5" height="25.6"/>
    <rect x="290" y="183.6" width="12.2" height="12.2"/>
    <rect x="303.5" y="183.6" width="12.1" height="12.2"/>
    <rect x="316.9" y="183.6" width="12.2" height="12.2"/>
    <rect x="290" y="202.9" width="12.2" height="7"/>
    <rect x="303.5" y="202.9" width="12.1" height="7"/>
    <rect x="316.9" y="202.9" width="12.2" height="7"/>
  </g>
  <g fill="#fff" opacity="0.9">
    <path d="M283,173.5 L285,174.8 L283,176.2 L281,175 Z"/>
    <circle cx="311.8" cy="174.2" r="1.8"/>
    <path d="M324.6,172.5 L326.6,174.5 L324.6,176.5 L322.6,174.5 Z"/>
    <rect x="336.5" y="173" width="2.8" height="2.5"/>
    <circle cx="297.7" cy="188.2" r="1.5"/>
    <path d="M307.5,186.5 L311.5,190.5 M311.5,186.5 L307.5,190.5" stroke="#fff" stroke-width="0.9"/>
    <rect x="321.5" y="186.8" width="3.6" height="2.6"/>
  </g>
  <g fill="#222"><circle cx="312.5" cy="160.6" r="0.7"/><circle cx="317.6" cy="160.6" r="0.7"/><circle cx="322.7" cy="160.6" r="0.7"/><circle cx="327.8" cy="160.6" r="0.7"/></g>
  <rect x="351.3" y="158" width="17.5" height="61" fill="#1b1b1b"/>
  <rect x="355.4" y="159.9" width="11.3" height="2.6" fill="#c8dc8a"/>
  <g fill="#c4c4c4">
    <rect x="355.4" y="166.7" width="4.8" height="2.4"/><rect x="362.3" y="166.7" width="4.8" height="2.4"/>
    <rect x="355.4" y="171" width="4.8" height="2.2"/><rect x="362.3" y="171" width="4.8" height="2.2"/>
    <rect x="355.4" y="175" width="4.8" height="2.2"/><rect x="362.3" y="175" width="4.8" height="2.2"/>
    <rect x="355.4" y="179.1" width="4.8" height="2.2"/><rect x="362.3" y="179.1" width="4.8" height="2.2"/>
  </g>
  <g fill="#9a9a9a">
    <path d="M355.8,182.6 L366.2,182.6 L361,188 Z"/>
    <path d="M355.8,196.2 L366.2,196.2 L361,190.8 Z"/>
    <path d="M354.6,183.8 L354.6,195 L359.6,189.4 Z"/>
    <path d="M367.4,183.8 L367.4,195 L362.4,189.4 Z"/>
  </g>
  <rect x="355.5" y="197.5" width="4.5" height="1.8" fill="#c04040"/>
  <rect x="362" y="197.5" width="4.5" height="1.8" fill="#c04040"/>
  <text x="354.5" y="213" font-size="9.5" font-weight="bold" fill="#fff" textLength="12.5" lengthAdjust="spacingAndGlyphs">HD</text>
  <rect x="320.4" y="150" width="3" height="4.5" fill="#888"/>
  <rect x="326.5" y="150" width="3" height="4.5" fill="#888"/>
  <rect x="346" y="151" width="3.5" height="3" fill="#777"/>
  <rect x="266" y="225" width="3" height="3" fill="#777"/>
</g>

<!-- IPC cameras -->

<g transform="translate(517.7,227.3)">
    <path d="M11.6,11 L16.6,11 L16.6,16.5 L11.6,16.5 Z" fill="#c4c4c4"/>
    <rect x="13" y="15.7" width="15" height="6.9" fill="#d9d9d9" stroke="#a8a8a8" stroke-width="0.5"/>
    <rect x="12.8" y="15.5" width="3.2" height="7.4" fill="#f0f0f0" stroke="#aaa" stroke-width="0.5"/>
    <rect x="26.2" y="13.5" width="4.5" height="9.6" rx="0.8" fill="#d2d2d2" stroke="#9a9a9a" stroke-width="0.5"/>
    <path d="M3,0.3 L23.5,1 L23.5,9.8 Q22,11.3 18,11 L7,11.6 Z" fill="url(#cam)"/>
    <path d="M5,0.2 L23.5,0.9 L23.5,2.5 L5,2 Z" fill="#f7f7f7"/>
    <line x1="9" y1="3.4" x2="23.3" y2="3.8" stroke="#bdbdbd" stroke-width="0.6"/>
    <ellipse cx="4.9" cy="6.3" rx="4.3" ry="6" transform="rotate(-22 4.9 6.3)" fill="#262626"/>
    <ellipse cx="5.6" cy="7" rx="2.6" ry="4.2" transform="rotate(-22 5.6 7)" fill="#4a4a4a"/>
  </g>
<g transform="translate(551.8,227.3)">
    <path d="M11.6,11 L16.6,11 L16.6,16.5 L11.6,16.5 Z" fill="#c4c4c4"/>
    <rect x="13" y="15.7" width="15" height="6.9" fill="#d9d9d9" stroke="#a8a8a8" stroke-width="0.5"/>
    <rect x="12.8" y="15.5" width="3.2" height="7.4" fill="#f0f0f0" stroke="#aaa" stroke-width="0.5"/>
    <rect x="26.2" y="13.5" width="4.5" height="9.6" rx="0.8" fill="#d2d2d2" stroke="#9a9a9a" stroke-width="0.5"/>
    <path d="M3,0.3 L23.5,1 L23.5,9.8 Q22,11.3 18,11 L7,11.6 Z" fill="url(#cam)"/>
    <path d="M5,0.2 L23.5,0.9 L23.5,2.5 L5,2 Z" fill="#f7f7f7"/>
    <line x1="9" y1="3.4" x2="23.3" y2="3.8" stroke="#bdbdbd" stroke-width="0.6"/>
    <ellipse cx="4.9" cy="6.3" rx="4.3" ry="6" transform="rotate(-22 4.9 6.3)" fill="#262626"/>
    <ellipse cx="5.6" cy="7" rx="2.6" ry="4.2" transform="rotate(-22 5.6 7)" fill="#4a4a4a"/>
  </g>
<g transform="translate(589.3,227.3)">
    <path d="M11.6,11 L16.6,11 L16.6,16.5 L11.6,16.5 Z" fill="#c4c4c4"/>
    <rect x="13" y="15.7" width="15" height="6.9" fill="#d9d9d9" stroke="#a8a8a8" stroke-width="0.5"/>
    <rect x="12.8" y="15.5" width="3.2" height="7.4" fill="#f0f0f0" stroke="#aaa" stroke-width="0.5"/>
    <rect x="26.2" y="13.5" width="4.5" height="9.6" rx="0.8" fill="#d2d2d2" stroke="#9a9a9a" stroke-width="0.5"/>
    <path d="M3,0.3 L23.5,1 L23.5,9.8 Q22,11.3 18,11 L7,11.6 Z" fill="url(#cam)"/>
    <path d="M5,0.2 L23.5,0.9 L23.5,2.5 L5,2 Z" fill="#f7f7f7"/>
    <line x1="9" y1="3.4" x2="23.3" y2="3.8" stroke="#bdbdbd" stroke-width="0.6"/>
    <ellipse cx="4.9" cy="6.3" rx="4.3" ry="6" transform="rotate(-22 4.9 6.3)" fill="#262626"/>
    <ellipse cx="5.6" cy="7" rx="2.6" ry="4.2" transform="rotate(-22 5.6 7)" fill="#4a4a4a"/>
  </g>
<g transform="translate(627,227.3)">
    <path d="M11.6,11 L16.6,11 L16.6,16.5 L11.6,16.5 Z" fill="#c4c4c4"/>
    <rect x="13" y="15.7" width="15" height="6.9" fill="#d9d9d9" stroke="#a8a8a8" stroke-width="0.5"/>
    <rect x="12.8" y="15.5" width="3.2" height="7.4" fill="#f0f0f0" stroke="#aaa" stroke-width="0.5"/>
    <rect x="26.2" y="13.5" width="4.5" height="9.6" rx="0.8" fill="#d2d2d2" stroke="#9a9a9a" stroke-width="0.5"/>
    <path d="M3,0.3 L23.5,1 L23.5,9.8 Q22,11.3 18,11 L7,11.6 Z" fill="url(#cam)"/>
    <path d="M5,0.2 L23.5,0.9 L23.5,2.5 L5,2 Z" fill="#f7f7f7"/>
    <line x1="9" y1="3.4" x2="23.3" y2="3.8" stroke="#bdbdbd" stroke-width="0.6"/>
    <ellipse cx="4.9" cy="6.3" rx="4.3" ry="6" transform="rotate(-22 4.9 6.3)" fill="#262626"/>
    <ellipse cx="5.6" cy="7" rx="2.6" ry="4.2" transform="rotate(-22 5.6 7)" fill="#4a4a4a"/>
  </g>
<g transform="translate(132,277) scale(1.15)">
    <path d="M11.6,11 L16.6,11 L16.6,16.5 L11.6,16.5 Z" fill="#c4c4c4"/>
    <rect x="13" y="15.7" width="15" height="6.9" fill="#d9d9d9" stroke="#a8a8a8" stroke-width="0.5"/>
    <rect x="12.8" y="15.5" width="3.2" height="7.4" fill="#f0f0f0" stroke="#aaa" stroke-width="0.5"/>
    <rect x="26.2" y="13.5" width="4.5" height="9.6" rx="0.8" fill="#d2d2d2" stroke="#9a9a9a" stroke-width="0.5"/>
    <path d="M3,0.3 L23.5,1 L23.5,9.8 Q22,11.3 18,11 L7,11.6 Z" fill="url(#cam)"/>
    <path d="M5,0.2 L23.5,0.9 L23.5,2.5 L5,2 Z" fill="#f7f7f7"/>
    <line x1="9" y1="3.4" x2="23.3" y2="3.8" stroke="#bdbdbd" stroke-width="0.6"/>
    <ellipse cx="4.9" cy="6.3" rx="4.3" ry="6" transform="rotate(-22 4.9 6.3)" fill="#262626"/>
    <ellipse cx="5.6" cy="7" rx="2.6" ry="4.2" transform="rotate(-22 5.6 7)" fill="#4a4a4a"/>
  </g>

<!-- SWITCH -->
<g id="switch">
  <path d="M493.2,287.8 L552.8,287.8 L566.6,293.4 L483.5,293.4 Z" fill="#3a3a3a"/>
  <rect x="483.5" y="293.4" width="83.1" height="15.9" fill="#1c1c1c"/>
  <rect x="492.3" y="298.4" width="9.6" height="7.3" fill="#d0d0d0"/><path d="M493.5,300.8 L495.3,300.8 L495.3,299.6 L498.90000000000003,299.6 L498.90000000000003,300.8 L500.7,300.8 L500.7,304.6 L493.5,304.6 Z" fill="#080808"/><rect x="502.9" y="298.4" width="9.6" height="7.3" fill="#d0d0d0"/><path d="M504.09999999999997,300.8 L505.9,300.8 L505.9,299.6 L509.5,299.6 L509.5,300.8 L511.29999999999995,300.8 L511.29999999999995,304.6 L504.09999999999997,304.6 Z" fill="#080808"/><rect x="513.4" y="298.4" width="9.6" height="7.3" fill="#d0d0d0"/><path d="M514.6,300.8 L516.4,300.8 L516.4,299.6 L520.0,299.6 L520.0,300.8 L521.8,300.8 L521.8,304.6 L514.6,304.6 Z" fill="#080808"/><rect x="523.9" y="298.4" width="9.6" height="7.3" fill="#d0d0d0"/><path d="M525.1,300.8 L526.9,300.8 L526.9,299.6 L530.5,299.6 L530.5,300.8 L532.3,300.8 L532.3,304.6 L525.1,304.6 Z" fill="#080808"/>
  <rect x="492.5" y="295.8" width="1.6" height="0.9" fill="#888"/><rect x="497.7" y="295.8" width="1.6" height="0.9" fill="#888"/><rect x="502.9" y="295.8" width="1.6" height="0.9" fill="#888"/><rect x="508.1" y="295.8" width="1.6" height="0.9" fill="#888"/><rect x="513.3" y="295.8" width="1.6" height="0.9" fill="#888"/><rect x="518.5" y="295.8" width="1.6" height="0.9" fill="#888"/><rect x="523.7" y="295.8" width="1.6" height="0.9" fill="#888"/><rect x="528.9" y="295.8" width="1.6" height="0.9" fill="#888"/>
  <rect x="546.3" y="299.2" width="9.5" height="6.4" fill="#050505" stroke="#8a8a8a" stroke-width="0.8"/>
  <rect x="549" y="295.6" width="3" height="0.9" fill="#777"/>
  <rect x="487" y="305.5" width="2.5" height="1.5" fill="#666"/>
</g>

<!-- BOTTOM ICON BOXES -->
<g stroke="#0a0a0a" stroke-width="2.1" fill="#f1f1f1">
  <rect x="24" y="489.5" width="81.7" height="79.6" rx="8.3"/>
  <rect x="132.6" y="489.5" width="81.2" height="79.6" rx="8.3"/>
  <rect x="241.1" y="489.5" width="81.3" height="79.6" rx="8.3"/>
  <rect x="350.2" y="489.5" width="81.3" height="79.6" rx="8.3"/>
  <rect x="458.5" y="489.5" width="81.4" height="79.6" rx="8.3"/>
  <rect x="567.2" y="489.5" width="81.6" height="79.6" rx="8.3"/>
</g>
<!-- icon1 cctv -->
<g fill="#000">
  <path d="M61.5,500.7 L99,538.1 L84.7,550.2 L50.2,512.7 Z"/>
  <path d="M42.7,521.5 L48.8,516.2 L80.8,550.8 L74.7,556 Z"/>
  <rect x="38" y="536" width="7" height="22.2" rx="3.5"/>
  <path d="M44,541.6 L51,541.6 L54.2,538 L58.2,540.5 L53.6,548.6 L44,549.2 Z"/>
</g>
<!-- icon2 menu -->
<g fill="#000">
  <rect x="146.6" y="500" width="24.1" height="24" rx="2"/>
  <rect x="175.5" y="500" width="24" height="24" rx="2"/>
  <rect x="146.6" y="529.7" width="24.1" height="24" rx="2"/>
  <rect x="175.5" y="537" width="2.6" height="16.5" rx="1"/>
  <rect x="182" y="537" width="2.6" height="16.5" rx="1"/>
  <rect x="189" y="530" width="2.6" height="23.5" rx="1"/>
  <rect x="195.7" y="530" width="2.6" height="23.5" rx="1"/>
</g>
<!-- icon3 photo camera -->
<g>
  <rect x="249.4" y="509.4" width="65" height="41.4" rx="7.5" fill="#000"/>
  <path d="M268.5,502.5 L295.5,502.5 Q297.5,502.5 298,504.5 L299.5,511 L264.5,511 L266,504.5 Q266.5,502.5 268.5,502.5 Z" fill="#000"/>
  <rect x="257.2" y="505" width="7.7" height="2.2" fill="#000"/>
  <rect x="273.2" y="505" width="17.1" height="3" rx="1.3" fill="#f2f2f2"/>
  <rect x="297.8" y="517" width="4.9" height="2.5" rx="0.8" fill="#f2f2f2"/>
  <circle cx="281.8" cy="529.2" r="14.6" fill="none" stroke="#bbb" stroke-width="0.9"/>
  <circle cx="281.8" cy="529.2" r="9.1" fill="#f2f2f2"/>
</g>
<!-- icon4 video -->
<g fill="#000">
  <rect x="361.6" y="506.6" width="44.4" height="40.9" rx="3.5"/>
  <path d="M408,521 L423,512 L423,543 L408,534 Z"/>
</g>
<!-- icon5 zoom -->
<g>
  <circle cx="494.9" cy="521.6" r="18.2" fill="none" stroke="#000" stroke-width="5.6"/>
  <path d="M506,535 L510,531 L514,535 L510,539 Z" fill="#000"/>
  <line x1="512" y1="541.5" x2="526.5" y2="556.5" stroke="#000" stroke-width="7" stroke-linecap="round"/>
  <path d="M494.8,509.2 A12.5,12.5 0 0 1 505.6,515.2" fill="none" stroke="#000" stroke-width="1.8" stroke-linecap="round"/>
</g>
<g>
  <path fill="#111" fill-rule="evenodd" d="M591.5,512.2 L602,512.2 L602,531.5 L603.7,531.5 L603.7,538.1 L602,538.1 L602,544.2 L592.1,544.2 L592.1,538.1 L578.3,538.1 L578.3,531.5 Z M592.1,520.5 L592.1,531.5 L584.9,531.5 Z"/>
  <path fill="#111" d="M607,512.2 L617,512.2 L617,526 L628.5,512.2 L637.4,512.2 L624.1,526.5 L637.9,544.2 L626.3,544.2 L618,532.6 L617,533.9 L617,544.2 L607,544.2 Z"/>
</g>
</svg>
</body></html>
